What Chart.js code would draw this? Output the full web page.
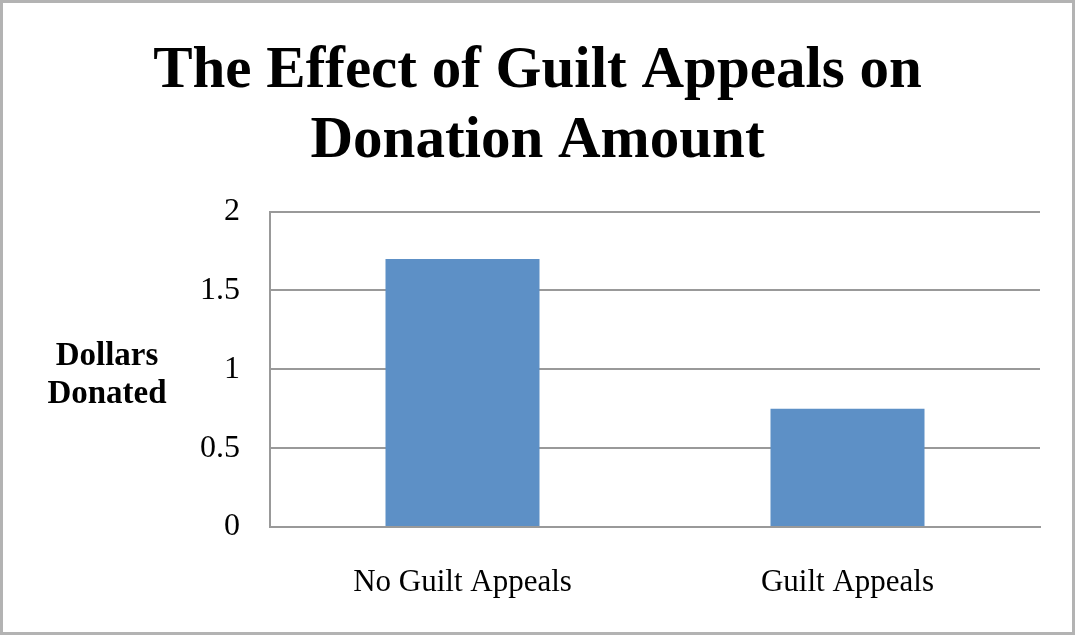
<!DOCTYPE html>
<html>
<head>
<meta charset="utf-8">
<script src="https://cdn.jsdelivr.net/npm/chart.js@4.4.1/dist/chart.umd.min.js"></script>
<style>
  html, body { margin: 0; padding: 0; background: #fff; }
  #wrap { width: 1075px; height: 635px; box-sizing: border-box; border: 3px solid #b3b3b3; }
</style>
</head>
<body>
<div id="wrap"><canvas id="chart" width="1069" height="629"></canvas></div>
<script>
// chart data
var categories = ['No Guilt Appeals', 'Guilt Appeals'];
var donated = [1.7, 0.75];
var yTicks = [0, 0.5, 1, 1.5, 2];
var titleLines = ['The Effect of Guilt Appeals on', 'Donation Amount'];
var yTitleLines = ['Dollars', 'Donated'];

var serif = '"Liberation Serif", "Times New Roman", serif';

// horizontal y-axis title, drawn left of the tick labels
var yTitlePlugin = {
    id: 'yTitle',
    afterDraw: function(chart) {
        var ctx = chart.ctx;
        var area = chart.chartArea;
        ctx.save();
        ctx.font = 'bold 33px ' + serif;
        ctx.fillStyle = '#000';
        ctx.textAlign = 'center';
        ctx.textBaseline = 'alphabetic';
        var cx = area.left - 163;
        var mid = (area.top + area.bottom) / 2;
        ctx.fillText(yTitleLines[0], cx, mid - 4);
        ctx.fillText(yTitleLines[1], cx, mid + 34);
        ctx.restore();
    }
};

var ctx = document.getElementById('chart').getContext('2d');
var chart = new Chart(ctx, {
    type: 'bar',
    data: {
        labels: categories,
        datasets: [{
            label: 'Dollars Donated',
            data: donated,
            backgroundColor: '#5d90c6',
            borderWidth: 0,
            categoryPercentage: 0.4,
            barPercentage: 1.0
        }]
    },
    options: {
        responsive: false,
        animation: false,
        layout: { padding: 0 },
        plugins: {
            legend: { display: false },
            tooltip: { enabled: false },
            title: {
                display: true,
                text: titleLines,
                color: '#000',
                font: { family: serif, size: 59, weight: 'bold', lineHeight: 1.2 },
                padding: { top: 33, bottom: 34 }
            }
        },
        scales: {
            x: {
                grid: { display: false, drawTicks: false },
                border: { display: true, color: '#999', width: 2 },
                ticks: { color: '#000', font: { family: serif, size: 31 }, padding: 37 },
                afterFit: function(scale) { scale.height = 105; }
            },
            y: {
                min: 0,
                max: 2,
                afterBuildTicks: function(scale) {
                    scale.ticks = yTicks.map(function(v) { return { value: v }; });
                },
                grid: { color: '#999', lineWidth: 2, drawTicks: false },
                border: { display: true, color: '#999', width: 2 },
                ticks: {
                    color: '#000',
                    font: { family: serif, size: 32 },
                    padding: 30,
                    callback: function(v) { return String(v); }
                },
                afterFit: function(scale) { scale.width = 267; }
            },
            // empty right axis, only keeps the white margin right of the plot
            yRight: {
                position: 'right',
                grid: { display: false, drawTicks: false },
                border: { display: false },
                ticks: { display: false },
                afterFit: function(scale) { scale.width = 32; }
            }
        }
    },
    plugins: [yTitlePlugin]
});
</script>
</body>
</html>
